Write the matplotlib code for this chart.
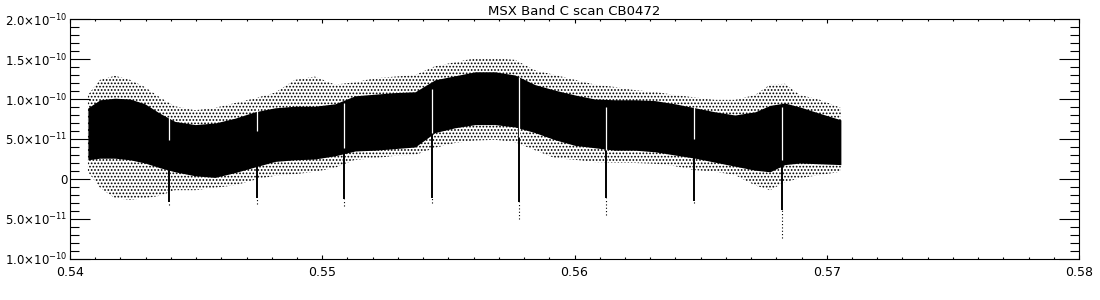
import numpy as np
import matplotlib
matplotlib.use("Agg")
import matplotlib.pyplot as plt
from matplotlib.ticker import FixedLocator, FixedFormatter, MultipleLocator

plt.rcParams["hatch.linewidth"] = 0.8

# scan position (x) and envelope of the scattered flux samples (units of 1e-11)
scan_x = [0.54071, 0.54119, 0.54178, 0.54238, 0.54297, 0.54357, 0.54416, 0.54496,
          0.54575, 0.54654, 0.54733, 0.54813, 0.54892, 0.54971, 0.55051, 0.55130,
          0.55209, 0.55288, 0.55368, 0.55447, 0.55526, 0.55606, 0.55685, 0.55764,
          0.55843, 0.55923, 0.56002, 0.56081, 0.56160, 0.56240, 0.56319, 0.56398,
          0.56478, 0.56557, 0.56636, 0.56716, 0.56775, 0.56834, 0.56894, 0.56973,
          0.57056]
dense_top = [8.9, 9.9, 10.1, 10.0, 9.4, 8.2, 7.2, 6.8, 7.0, 7.6, 8.4, 8.9, 9.1, 9.1,
             9.4, 10.4, 10.6, 10.8, 10.9, 12.4, 12.9, 13.4, 13.4, 13.0, 11.8, 11.1,
             10.5, 10.0, 9.9, 9.9, 9.8, 9.4, 8.9, 8.4, 8.0, 8.4, 9.2, 9.5, 9.0, 8.2, 7.4]
dense_bot = [2.4, 2.6, 2.6, 2.4, 2.0, 1.4, 0.9, 0.4, 0.2, 0.8, 1.5, 2.2, 2.4, 2.5,
             2.9, 3.5, 3.6, 3.8, 4.0, 5.8, 6.4, 6.8, 6.8, 6.5, 5.8, 4.9, 4.2, 3.9,
             3.6, 3.6, 3.4, 3.0, 2.6, 2.1, 1.6, 1.1, 0.9, 1.8, 2.0, 1.9, 1.8]
sparse_top = [10.5, 12.4, 12.9, 12.4, 11.5, 10.2, 9.1, 8.6, 8.9, 9.5, 10.1, 10.8,
              12.4, 12.8, 11.8, 12.1, 12.6, 12.8, 13.0, 14.1, 14.6, 15.1, 15.1, 14.9,
              13.6, 13.0, 12.4, 11.8, 11.5, 11.1, 10.9, 10.5, 10.2, 9.9, 9.9, 10.5,
              11.8, 11.9, 10.5, 9.9, 8.9]
sparse_bot = [0.9, -1.1, -2.4, -2.6, -2.4, -2.1, -1.4, -1.4, -1.1, -0.8, -0.1, 0.4,
              0.6, 0.9, 1.4, 2.4, 2.6, 2.9, 3.0, 3.9, 4.5, 4.8, 4.9, 4.6, 3.6, 2.6,
              2.4, 2.1, 2.0, 2.0, 1.9, 1.6, 1.1, 0.9, 0.5, -0.8, -1.4, -0.4, 0.1,
              0.5, 0.9]

# downward spikes (units of 1e-11)
spike_x = [0.54392, 0.54741, 0.55086, 0.55435, 0.55780, 0.56125, 0.56474, 0.56823]
spike_low = [-2.9, -2.4, -2.5, -2.4, -2.9, -2.4, -2.8, -3.9]
spike_tail = [-3.25, -3.1, -3.4, -3.0, -5.0, -4.5, -3.0, -7.4]
gap_top = [7.7, 9.0, 9.5, 11.2, 12.7, 9.0, 9.0, 9.0]
gap_bot = [4.9, 6.0, 3.9, 5.8, 5.2, 3.6, 5.0, 2.4]

y_ticks = [-10, -5, 0, 5, 10, 15, 20]
y_labels = [r"$1.0{\times}10^{-10}$", r"$5.0{\times}10^{-11}$", "0",
            r"$5.0{\times}10^{-11}$", r"$1.0{\times}10^{-10}$",
            r"$1.5{\times}10^{-10}$", r"$2.0{\times}10^{-10}$"]
x_ticks = [0.54, 0.55, 0.56, 0.57, 0.58]
x_labels = ["0.54", "0.55", "0.56", "0.57", "0.58"]

scale = 1e-11
x = np.array(scan_x)
dt = np.array(dense_top) * scale
db = np.array(dense_bot) * scale
st = np.array(sparse_top) * scale
sb = np.array(sparse_bot) * scale

fig = plt.figure(figsize=(11, 3), dpi=100)
ax = fig.add_axes([70 / 1100, 41 / 300, 1009 / 1100, 240 / 300])

# scattered fringe (dots), then dense core
ax.fill_between(x, sb, st, facecolor="none", edgecolor="black", hatch=".....",
                linewidth=0)
ax.fill_between(x, db, dt, color="black", linewidth=0)

sx = np.array(spike_x)
ax.vlines(sx, np.array(spike_low) * scale, np.interp(sx, x, db), color="black", lw=1.4)
ax.vlines(sx, np.array(spike_tail) * scale, np.array(spike_low) * scale,
          color="black", lw=0.8, linestyles=(0, (1, 2)))
ax.vlines(sx, np.array(gap_bot) * scale, np.array(gap_top) * scale, color="white", lw=0.9)

ax.set_xlim(0.54, 0.58)
ax.set_ylim(-1e-10, 2e-10)
ax.xaxis.set_major_locator(FixedLocator(x_ticks))
ax.xaxis.set_major_formatter(FixedFormatter(x_labels))
ax.xaxis.set_minor_locator(MultipleLocator(0.001))
ax.yaxis.set_major_locator(FixedLocator([v * scale for v in y_ticks]))
ax.yaxis.set_major_formatter(FixedFormatter(y_labels))
ax.yaxis.set_minor_locator(MultipleLocator(1e-11))

ax.tick_params(axis="x", which="major", direction="in", top=True, length=3.2,
               width=0.8, labelsize=9, pad=5)
ax.tick_params(axis="x", which="minor", direction="in", top=True, length=1.6, width=0.8)
ax.tick_params(axis="y", which="major", direction="in", right=True, length=14.4,
               width=0.8, labelsize=8.5, pad=2)
ax.tick_params(axis="y", which="minor", direction="in", right=True, length=6.5, width=0.8)
for s in ax.spines.values():
    s.set_linewidth(0.8)

ax.set_title("MSX Band C scan CB0472", fontsize=9.5, pad=3)

fig.savefig("out.png", dpi=100)
